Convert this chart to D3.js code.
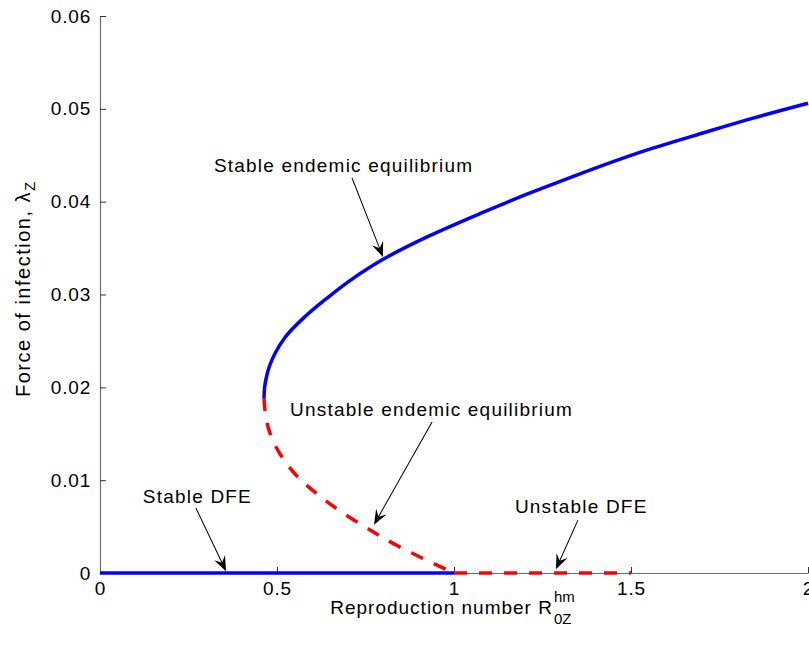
<!DOCTYPE html>
<html>
<head>
<meta charset="utf-8">
<script src="https://cdn.jsdelivr.net/npm/d3@7"></script>
<style>
  body { margin: 0; background: #fff; }
  text { font-family: "Liberation Sans", Arial, Helvetica, sans-serif; fill: #000; }
</style>
</head>
<body>
<svg id="chart" width="809" height="645"></svg>
<script>
// Stable endemic equilibrium branch: reproduction number vs force of infection
const stableEndemicR = [0.4633, 0.4650, 0.4695, 0.478, 0.495, 0.523, 0.573, 0.641, 0.706, 0.805, 0.924, 1.073, 1.206, 1.328, 1.540, 1.703, 1.845, 2.0];
const stableEndemicL = [0.01885, 0.0200, 0.0210, 0.0222, 0.0237, 0.0254, 0.0274, 0.0296, 0.0315, 0.0339, 0.0362, 0.0387, 0.0408, 0.0426, 0.0455, 0.0474, 0.0490, 0.0506];

// Unstable endemic equilibrium branch
const unstableEndemicR = [0.4633, 0.466, 0.480, 0.514, 0.559, 0.616, 0.684, 0.757, 0.842, 0.927, 1.0];
const unstableEndemicL = [0.01885, 0.01756, 0.01508, 0.01250, 0.01034, 0.00843, 0.00653, 0.00478, 0.00290, 0.00130, 0.0];

// Disease-free equilibrium
const stableDfeR = [0, 1];
const stableDfeL = [0, 0];
const unstableDfeR = [1, 1.5];
const unstableDfeL = [0, 0];

// Axis ticks
const xTicks = [0, 0.5, 1, 1.5, 2];
const xTickLabels = ["0", "0.5", "1", "1.5", "2"];
const yTicks = [0, 0.01, 0.02, 0.03, 0.04, 0.05, 0.06];
const yTickLabels = ["0", "0.01", "0.02", "0.03", "0.04", "0.05", "0.06"];

// Annotations: label text, label anchor (R, lambda), arrow tail and tip (R, lambda)
const annotationText = ["Stable endemic equilibrium", "Unstable endemic equilibrium", "Stable DFE", "Unstable DFE"];
const annotationAt = [[0.322, 0.0432], [0.537, 0.0169], [0.121, 0.00754], [1.172, 0.00646]];
const arrowTail = [[0.712, 0.04255], [0.938, 0.01627], [0.271, 0.0070], [1.350, 0.0057]];
const arrowTip = [[0.7994, 0.03404], [0.774, 0.0052], [0.356, 0.0002], [1.288, 0.0004]];

const svg = d3.select("#chart");
const W = 809, H = 645;
const margin = { left: 100, right: 1, top: 16, bottom: 72 };

const x = d3.scaleLinear().domain([0, 2]).range([margin.left, W - margin.right]);
const y = d3.scaleLinear().domain([0, 0.06]).range([H - margin.bottom, margin.top]);

const fontSize = 19;
const letterSp = "1.2px";
const axisColor = "#6e6e6e";

// Axes with inward ticks
const gx = svg.append("g")
  .attr("transform", `translate(0,${y(0)})`)
  .call(d3.axisBottom(x).tickValues(xTicks).tickFormat((d, i) => xTickLabels[i])
    .tickSizeInner(-6).tickSizeOuter(0).tickPadding(9));
const gy = svg.append("g")
  .attr("transform", `translate(${x(0)},0)`)
  .call(d3.axisLeft(y).tickValues(yTicks).tickFormat((d, i) => yTickLabels[i])
    .tickSizeInner(-6).tickSizeOuter(0).tickPadding(9));

[gx, gy].forEach(g => {
  g.select(".domain").attr("stroke", axisColor).attr("stroke-width", 1.2);
  g.selectAll(".tick line").attr("stroke", "#333").attr("stroke-width", 1);
  g.selectAll(".tick text")
    .attr("font-family", "'Liberation Sans', Arial, sans-serif")
    .attr("font-size", fontSize)
    .attr("letter-spacing", "0.8px")
    .attr("fill", "#000");
});

// Curves: the endemic branches are monotone in lambda, so interpolate R as a function of lambda
const zip = (a, b) => a.map((v, i) => [v, b[i]]);
const straight = d3.line().x(d => x(d[0])).y(d => y(d[1]));
const branch = d3.line().x(d => x(d[0])).y(d => y(d[1])).curve(d3.curveMonotoneY);
const byLambda = pts => pts.slice().sort((a, b) => a[1] - b[1]);

svg.append("path")
  .datum(zip(stableDfeR, stableDfeL))
  .attr("d", straight).attr("fill", "none")
  .attr("stroke", "#0000ff").attr("stroke-width", 3.5);

svg.append("path")
  .datum(zip(unstableDfeR, unstableDfeL))
  .attr("d", straight).attr("fill", "none")
  .attr("stroke", "#ff0000").attr("stroke-width", 3.5)
  .attr("stroke-dasharray", "13,12");

// Unstable branch drawn from the turning point down to (1, 0)
svg.append("path")
  .datum(byLambda(zip(unstableEndemicR, unstableEndemicL)).reverse())
  .attr("d", branch).attr("fill", "none")
  .attr("stroke", "#ff0000").attr("stroke-width", 3.5)
  .attr("stroke-dasharray", "13,12");

svg.append("path")
  .datum(byLambda(zip(stableEndemicR, stableEndemicL)))
  .attr("d", branch).attr("fill", "none")
  .attr("stroke", "#0000ff").attr("stroke-width", 3.5);

// Annotation labels and arrows
const ann = svg.append("g");
annotationText.forEach((t, i) => {
  ann.append("text")
    .attr("x", x(annotationAt[i][0]))
    .attr("y", y(annotationAt[i][1]))
    .attr("font-size", fontSize)
    .attr("letter-spacing", letterSp)
    .text(t);

  const x0 = x(arrowTail[i][0]), y0 = y(arrowTail[i][1]);
  const x1 = x(arrowTip[i][0]), y1 = y(arrowTip[i][1]);
  const ang = Math.atan2(y1 - y0, x1 - x0) * 180 / Math.PI;
  const len = Math.hypot(x1 - x0, y1 - y0);
  const L = 15, Wd = 12;
  const g = ann.append("g").attr("transform", `translate(${x1},${y1}) rotate(${ang})`);
  g.append("line")
    .attr("x1", -len).attr("y1", 0).attr("x2", -L * 0.6).attr("y2", 0)
    .attr("stroke", "#000").attr("stroke-width", 1);
  g.append("path")
    .attr("d", `M0,0 L${-L},${Wd / 2} L${-L * 0.62},0 L${-L},${-Wd / 2} Z`)
    .attr("fill", "#000");
});

// X axis label: R with stacked superscript and subscript
const xl = svg.append("g");
const xMain = xl.append("text")
  .attr("font-size", fontSize).attr("letter-spacing", "1px")
  .attr("y", 614).text("Reproduction number R");
const mainW = xMain.node().getComputedTextLength();
const supT = xl.append("text").attr("font-size", 15).attr("y", 602).text("hm");
const subT = xl.append("text").attr("font-size", 15).attr("y", 624).text("0Z");
const scriptW = Math.max(supT.node().getComputedTextLength(), subT.node().getComputedTextLength());
const xStart = (x.range()[0] + x.range()[1]) / 2 - (mainW + scriptW) / 2 - 2;
xMain.attr("x", xStart);
supT.attr("x", xStart + mainW + 1);
subT.attr("x", xStart + mainW + 1);

// Y axis label: lambda with subscript
const yl = svg.append("text")
  .attr("transform", `translate(30,${397}) rotate(-90)`)
  .attr("font-size", 20).attr("letter-spacing", "1.5px");
yl.append("tspan").text("Force of infection, \u03bb");
yl.append("tspan").attr("font-size", 15).attr("dy", 5).text("Z");
</script>
</body>
</html>
